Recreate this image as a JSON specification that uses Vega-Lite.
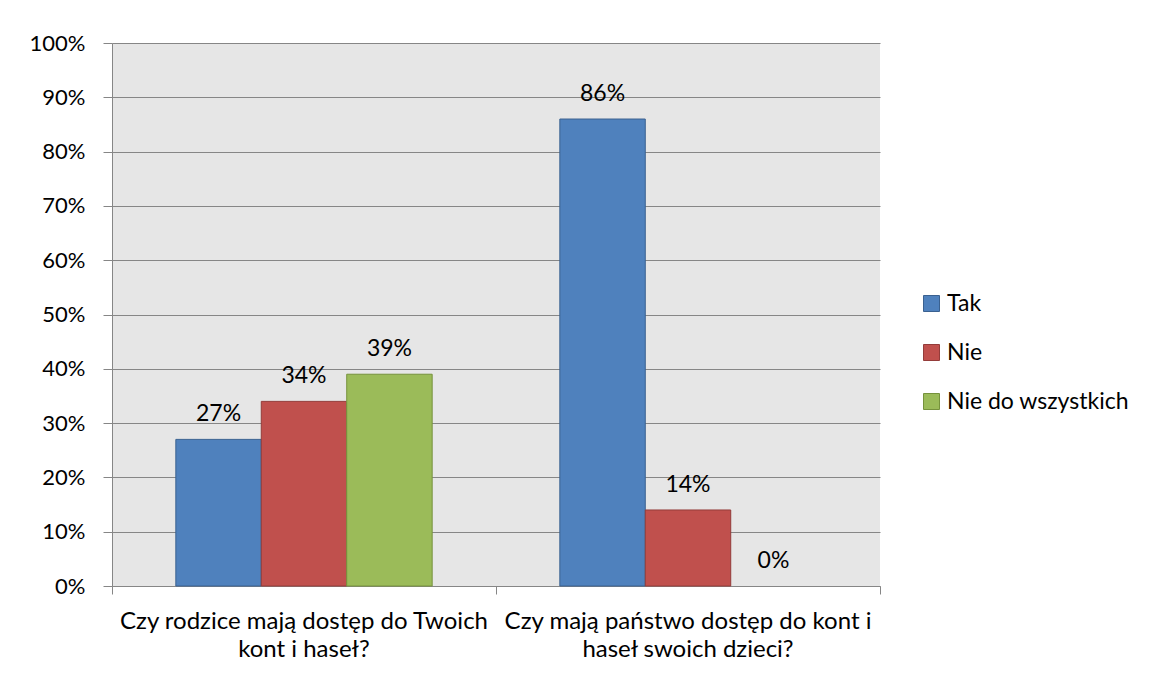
{
  "$schema": "https://vega.github.io/schema/vega-lite/v6.json",
  "width": 768,
  "height": 543,
  "autosize": {"type": "none"},
  "padding": {"left": 112, "top": 43, "right": 271, "bottom": 92},
  "background": "white",
  "config": {
    "view": {"fill": "#e6e6e6", "stroke": null},
    "font": "Lato",
    "legend": {
      "orient": "none",
      "legendX": 808,
      "legendY": 249,
      "symbolType": "square",
      "symbolSize": 256,
      "symbolStrokeWidth": 1,
      "labelFont": "Lato",
      "labelFontSize": 23,
      "labelColor": "#000000",
      "labelOffset": 4,
      "rowPadding": 25,
      "labelLimit": 300
    }
  },
  "data": {
    "values": [
      {"pytanie": "Czy rodzice mają dostęp do Twoich kont i haseł?", "odpowiedz": "Tak", "wartosc": 0.27},
      {"pytanie": "Czy rodzice mają dostęp do Twoich kont i haseł?", "odpowiedz": "Nie", "wartosc": 0.34},
      {"pytanie": "Czy rodzice mają dostęp do Twoich kont i haseł?", "odpowiedz": "Nie do wszystkich", "wartosc": 0.39},
      {"pytanie": "Czy mają państwo dostęp do kont i haseł swoich dzieci?", "odpowiedz": "Tak", "wartosc": 0.86},
      {"pytanie": "Czy mają państwo dostęp do kont i haseł swoich dzieci?", "odpowiedz": "Nie", "wartosc": 0.14},
      {"pytanie": "Czy mają państwo dostęp do kont i haseł swoich dzieci?", "odpowiedz": "Nie do wszystkich", "wartosc": 0.0}
    ]
  },
  "encoding": {
    "xOffset": {
      "field": "odpowiedz",
      "type": "nominal",
      "sort": ["Tak", "Nie", "Nie do wszystkich"],
      "scale": {"paddingInner": 0, "paddingOuter": 0.747}
    },
    "y": {
      "field": "wartosc",
      "type": "quantitative",
      "scale": {"domain": [0, 1], "nice": false},
      "axis": {
        "title": null,
        "values": [0, 0.1, 0.2, 0.3, 0.4, 0.5, 0.6, 0.7, 0.8, 0.9, 1],
        "format": ".0%",
        "grid": true,
        "gridColor": "#868686",
        "gridWidth": 1,
        "domainColor": "#868686",
        "tickColor": "#868686",
        "tickSize": 9,
        "labelPadding": 18,
        "labelFont": "Lato",
        "labelFontSize": 22,
        "labelColor": "#000000"
      }
    }
  },
  "layer": [
    {
      "mark": {"type": "bar", "strokeWidth": 1},
      "encoding": {
        "x": {
          "field": "pytanie",
          "type": "nominal",
          "sort": ["Czy rodzice mają dostęp do Twoich kont i haseł?", "Czy mają państwo dostęp do kont i haseł swoich dzieci?"],
          "scale": {"paddingInner": 0, "paddingOuter": 0},
          "axis": {
            "orient": "bottom",
            "title": null,
            "labels": false,
            "bandPosition": 1,
            "tickExtra": true,
            "tickSize": 8,
            "tickColor": "#868686",
            "domainColor": "#868686",
            "grid": false
          }
        },
        "fill": {
          "field": "odpowiedz",
          "type": "nominal",
          "sort": ["Tak", "Nie", "Nie do wszystkich"],
          "scale": {"domain": ["Tak", "Nie", "Nie do wszystkich"], "range": ["#4f81bd", "#c0504d", "#9bbb59"]},
          "legend": {"title": null}
        },
        "stroke": {
          "field": "odpowiedz",
          "type": "nominal",
          "sort": ["Tak", "Nie", "Nie do wszystkich"],
          "scale": {"domain": ["Tak", "Nie", "Nie do wszystkich"], "range": ["#3a6190", "#943c3a", "#76923c"]},
          "legend": {"title": null}
        },
        "strokeOpacity": {
          "condition": {"test": "datum.wartosc == 0", "value": 0},
          "value": 1
        }
      }
    },
    {
      "mark": {"type": "text", "baseline": "alphabetic", "dy": -18, "fontSize": 23, "font": "Lato", "color": "#000000"},
      "encoding": {
        "x": {
          "field": "pytanie",
          "type": "nominal",
          "sort": ["Czy rodzice mają dostęp do Twoich kont i haseł?", "Czy mają państwo dostęp do kont i haseł swoich dzieci?"],
          "axis": {
            "orient": "bottom",
            "title": null,
            "ticks": false,
            "domain": false,
            "grid": false,
            "labelAngle": 0,
            "labelOverlap": false,
            "labelBound": false,
            "labelLimit": 0,
            "labelFont": "Lato",
            "labelFontSize": 24,
            "labelColor": "#000000",
            "labelBaseline": "top",
            "labelLineHeight": 28,
            "labelPadding": 23,
            "labelExpr": "datum.value == 'Czy rodzice mają dostęp do Twoich kont i haseł?' ? ['Czy rodzice mają dostęp do Twoich', 'kont i haseł?'] : ['Czy mają państwo dostęp do kont i', 'haseł swoich dzieci?']"
          }
        },
        "text": {"field": "wartosc", "type": "quantitative", "format": ".0%"}
      }
    }
  ],
  "resolve": {"axis": {"x": "independent"}}
}
